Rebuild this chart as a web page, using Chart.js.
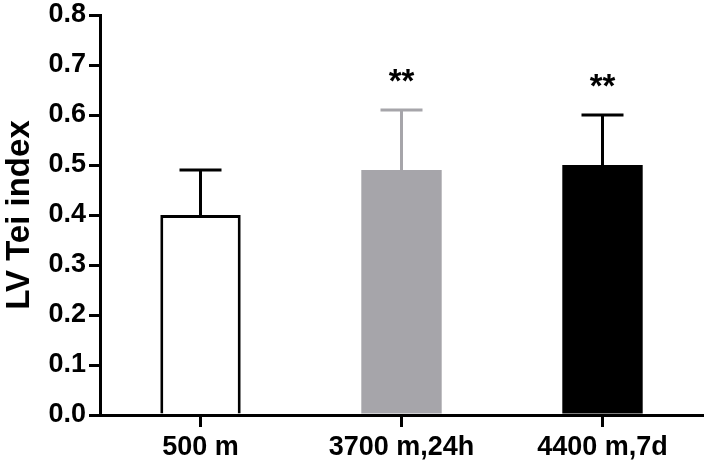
<!DOCTYPE html>
<html>
<head>
<meta charset="utf-8">
<script src="https://cdn.jsdelivr.net/npm/chart.js@4/dist/chart.umd.min.js"></script>
<style>
	html, body { margin: 0; padding: 0; background: #fff; }
	#wrap { width: 704px; height: 471px; }
</style>
</head>
<body>
<div id="wrap"><canvas id="chart" width="704" height="471"></canvas></div>
<script>
	// values
	var categories = ['500 m', '3700 m,24h', '4400 m,7d'];
	var means = [0.40, 0.49, 0.50];
	var errors = [0.09, 0.12, 0.10];
	var marks = ['', '**', '**'];
	var markLevels = [0, 0.675, 0.665];
	var fills = ['#ffffff', '#a6a5aa', '#000000'];
	var edges = ['#000000', '#a6a5aa', '#000000'];
	var yMin = 0, yMax = 0.8, yStep = 0.1;

	var fontFamily = '"Liberation Sans", Arial, Helvetica, sans-serif';

	/**
	 * Error bars (upper only) and significance marks
	 */
	var errorBarPlugin = {
		id: 'errorBars',
		afterDatasetsDraw: function (chart) {
			var ctx = chart.ctx,
				meta = chart.getDatasetMeta(0),
				yScale = chart.scales.y;

			meta.data.forEach(function (bar, i) {
				var x = bar.x,
					yTop = bar.y,
					yCap = yScale.getPixelForValue(means[i] + errors[i]);

				ctx.save();
				ctx.strokeStyle = edges[i];
				ctx.lineWidth = 3;
				ctx.lineCap = 'butt';
				ctx.beginPath();
				ctx.moveTo(x, yTop);
				ctx.lineTo(x, yCap);
				ctx.moveTo(x - 21, yCap);
				ctx.lineTo(x + 21, yCap);
				ctx.stroke();

				if (marks[i]) {
					ctx.fillStyle = '#000';
					ctx.font = 'bold 33px ' + fontFamily;
					ctx.textAlign = 'center';
					ctx.textBaseline = 'middle';
					ctx.fillText(marks[i], x, yScale.getPixelForValue(markLevels[i]) + 5);
				}
				ctx.restore();
			});
		}
	};

	new Chart(document.getElementById('chart'), {
		type: 'bar',
		data: {
			labels: categories,
			datasets: [{
				data: means,
				backgroundColor: fills,
				borderColor: edges,
				borderWidth: [3, 0, 0],
				borderSkipped: 'bottom',
				barPercentage: 0.4,
				categoryPercentage: 1
			}]
		},
		options: {
			responsive: false,
			animation: false,
			devicePixelRatio: 1,
			layout: {
				padding: {top: 15, right: 1, left: 0, bottom: 0}
			},
			plugins: {
				legend: {display: false},
				tooltip: {enabled: false}
			},
			scales: {
				x: {
					grid: {
						display: true,
						offset: false,
						drawOnChartArea: false,
						drawTicks: true,
						tickLength: 12,
						color: '#000',
						lineWidth: 3
					},
					border: {display: true, color: '#000', width: 3},
					ticks: {
						color: '#000',
						padding: 4,
						font: {family: fontFamily, size: 27, weight: 'bold'},
						maxRotation: 0
					},
					afterFit: function (scale) {
						scale.height = 56;
					}
				},
				y: {
					min: yMin,
					max: yMax,
					grid: {
						display: true,
						drawOnChartArea: false,
						drawTicks: true,
						tickLength: 11,
						color: '#000',
						lineWidth: 3
					},
					border: {display: true, color: '#000', width: 3},
					ticks: {
						stepSize: yStep,
						color: '#000',
						padding: 3,
						font: {family: fontFamily, size: 27, weight: 'bold'},
						callback: function (value) {
							return Number(value).toFixed(1);
						}
					},
					title: {
						display: true,
						text: 'LV Tei index',
						color: '#000',
						font: {family: fontFamily, size: 33, weight: 'bold'},
						padding: {top: 0, bottom: 0}
					},
					afterFit: function (scale) {
						scale.width = 100;
						scale.paddingTop = 0;
					}
				}
			}
		},
		plugins: [errorBarPlugin]
	});
</script>
</body>
</html>
